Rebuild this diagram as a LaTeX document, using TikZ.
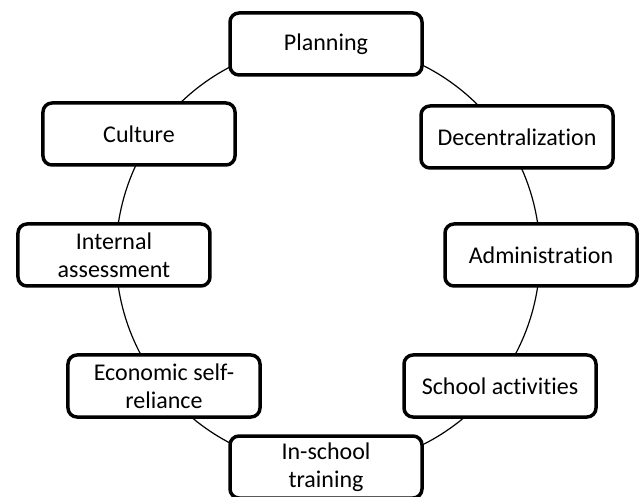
\documentclass[tikz,border=0pt]{standalone}
\usepackage{fontspec}
\setmainfont{Carlito}[Ligatures=NoCommon]
\usetikzlibrary{positioning}

\begin{document}
\begin{tikzpicture}[on grid,box/.style={draw=black,fill=white,line width=3.5pt,rounded corners=9pt,minimum width=192pt,minimum height=62pt,align=center,font=\fontsize{24}{28}\selectfont},ring/.style={draw=black,line width=1.2pt}]

\node[inner sep=0pt,minimum size=0pt] (hub) at (0,0) {};
\useasboundingbox (hub) ++(-328pt,255pt) rectangle ++(639pt,-497pt);
\draw[ring] (hub) circle (212pt);

\node[box] (plan)   [on grid,above left=211pt and 2pt of hub]    {Planning};
\node[box] (cult)   [on grid,above left=121pt and 189pt of hub]  {Culture};
\node[box] (decen)  [on grid,above right=118pt and 189pt of hub] {Decentralization};
\node[box] (intas)  [on grid,left=214pt of hub]                  {Internal\\assessment};
\node[box] (admin)  [on grid,right=213pt of hub]                 {Administration};
\node[box] (econ)   [on grid,below left=131pt and 164pt of hub]  {Economic self-\\reliance};
\node[box] (schact) [on grid,below right=131pt and 172pt of hub] {School activities};
\node[box] (train)  [on grid,below left=212pt and 2pt of hub]    {In-school\\training};

\end{tikzpicture}
\end{document}
